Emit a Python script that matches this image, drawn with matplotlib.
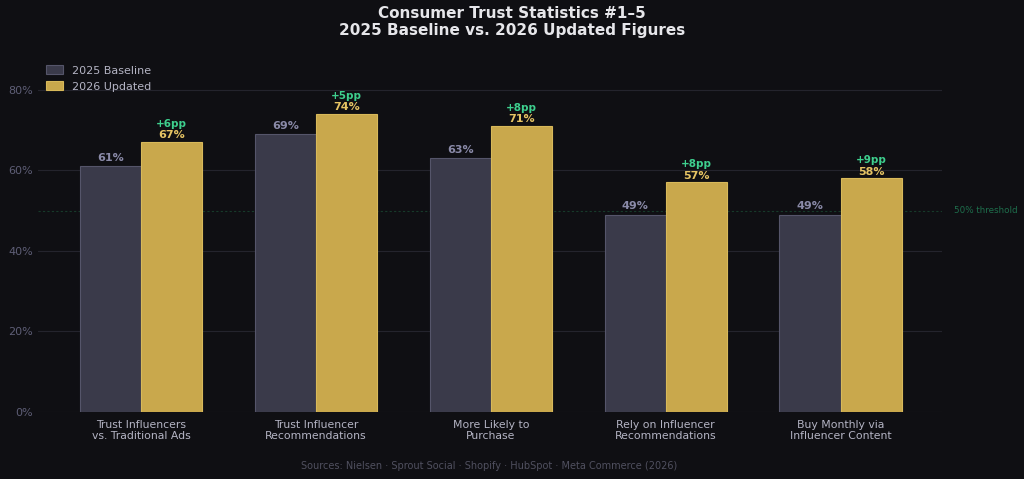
import matplotlib.pyplot as plt
import numpy as np

plt.rcParams['font.family'] = 'DejaVu Sans'

categories = ['Trust Influencers\nvs. Traditional Ads', 'Trust Influencer\nRecommendations',
              'More Likely to\nPurchase', 'Rely on Influencer\nRecommendations',
              'Buy Monthly via\nInfluencer Content']
baseline_2025 = [61, 69, 63, 49, 49]
updated_2026 = [67, 74, 71, 57, 58]
yticks = [0, 20, 40, 60, 80]

bg = '#0f0f13'
c_base = '#3a3a4a'
c_upd = '#c9a84c'

fig = plt.figure(figsize=(10.24, 4.79), dpi=100, facecolor=bg)
ax = fig.add_axes([0.037, 0.14, 0.883, 0.74])
ax.set_facecolor(bg)

x = np.arange(len(categories))
w = 0.35
ax.bar(x - w / 2, baseline_2025, w, color=c_base, edgecolor='#55556a', linewidth=0.8,
       label='2025 Baseline', zorder=3)
ax.bar(x + w / 2, updated_2026, w, color=c_upd, edgecolor='#d8b95a', linewidth=0.8,
       label='2026 Updated', zorder=3)

for xi, v in zip(x, baseline_2025):
    ax.text(xi - w / 2, v + 0.8, f'{v}%', ha='center', va='bottom', fontsize=8,
            fontweight='bold', color='#8a8aa8')
for xi, v, b in zip(x, updated_2026, baseline_2025):
    ax.text(xi + w / 2, v + 0.4, f'{v}%', ha='center', va='bottom', fontsize=8,
            fontweight='bold', color='#e6c464')
    ax.text(xi + w / 2, v + 3.3, f'+{v - b}pp', ha='center', va='bottom', fontsize=7.5,
            fontweight='bold', color='#3ecf8e')

# threshold line
ax.axhline(50, color='#173a2a', linestyle=(0, (2, 2)), linewidth=0.8, zorder=2)
ax.text(1.013, 50, '50% threshold', transform=ax.get_yaxis_transform(), ha='left',
        va='center', fontsize=6.3, color='#1e6e4c')

ax.set_xlim(-0.59, 4.58)
ax.set_ylim(0, 88)
ax.set_yticks(yticks)
ax.set_yticklabels([f'{t}%' for t in yticks])
ax.set_xticks(x)
ax.set_xticklabels(categories, fontsize=7.8, color='#b4b4c4', linespacing=1.1)
ax.tick_params(axis='y', colors='#5e5e76', labelsize=8, length=0)
ax.tick_params(axis='x', length=0, pad=6)
ax.yaxis.grid(True, color='#24242d', linewidth=0.8, zorder=0)
ax.set_axisbelow(True)
for s in ax.spines.values():
    s.set_visible(False)

leg = ax.legend(loc='upper left', frameon=False, fontsize=8, labelcolor='#b4b4c4',
                handlelength=1.6, handleheight=0.9, borderaxespad=0.3)

fig.text(0.5, 0.988, 'Consumer Trust Statistics #1–5\n2025 Baseline vs. 2026 Updated Figures',
         ha='center', va='top', fontsize=11, fontweight='bold', color='#e6e6ea',
         linespacing=1.15)
fig.text(0.478, 0.027, 'Sources: Nielsen · Sprout Social · Shopify · HubSpot · Meta Commerce (2026)',
         ha='center', va='center', fontsize=7, color='#50505f')

fig.savefig('out.png', dpi=100, facecolor=bg)
